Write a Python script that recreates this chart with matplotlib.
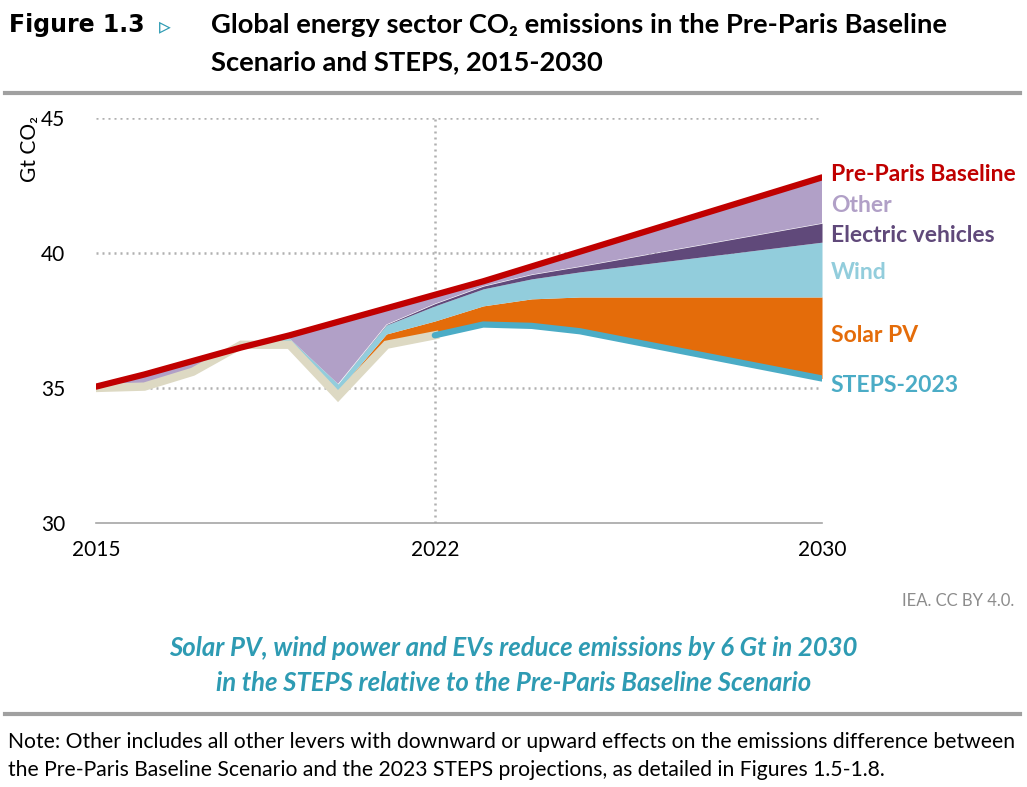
import matplotlib.pyplot as plt
import numpy as np

years = np.arange(2015, 2031)
baseline = [35.05, 35.5, 36.0, 36.5, 36.95, 37.45, 37.95, 38.45,
            38.95, 39.5, 40.05, 40.6, 41.15, 41.7, 42.25, 42.8]
steps = [35.0, 35.05, 35.6, 36.6, 36.6, 34.7, 36.6, 36.95,
         37.35, 37.3, 37.1, 36.75, 36.4, 36.05, 35.7, 35.35]
solar_pv = [0.0, 0.02, 0.05, 0.08, 0.15, 0.2, 0.4, 0.53,
            0.69, 1.0, 1.27, 1.62, 1.97, 2.32, 2.67, 3.02]
wind = [0.0, 0.01, 0.03, 0.05, 0.08, 0.25, 0.33, 0.56,
        0.63, 0.74, 0.93, 1.15, 1.37, 1.59, 1.81, 2.03]
evs = [0.0, 0.0, 0.0, 0.0, 0.0, 0.0, 0.02, 0.08,
       0.1, 0.16, 0.2, 0.3, 0.4, 0.5, 0.6, 0.7]

C_RED = "#c00000"
C_OTHER = "#b1a0c7"
C_EV = "#60497a"
C_WIND = "#92cddc"
C_SOLAR = "#e46c0a"
C_STEPS = "#4bacc6"
C_HIST = "#ddd9c3"
C_TEAL = "#2e9bb3"

FONT = ["Lato", "DejaVu Sans"]
plt.rcParams["font.family"] = FONT

steps = np.array(steps)
baseline = np.array(baseline)
top_solar = steps + np.array(solar_pv)
top_wind = top_solar + np.array(wind)
top_ev = top_wind + np.array(evs)

fig = plt.figure(figsize=(10.27, 7.87), dpi=100)
ax = fig.add_axes([0.0935, 0.3355, 0.7069, 0.5146])

ax.fill_between(years, steps, top_solar, color=C_SOLAR, lw=0)
ax.fill_between(years, top_solar, top_wind, color=C_WIND, lw=0)
ax.fill_between(years, top_wind, top_ev, color=C_EV, lw=0)
ax.fill_between(years, top_ev, baseline, where=baseline >= top_ev,
                interpolate=True, color=C_OTHER, lw=0)

ax.plot(years, baseline, color=C_RED, lw=4.5, solid_capstyle="round", zorder=5)
hist = years <= 2022
ax.plot(years[hist], steps[hist], color=C_HIST, lw=6, zorder=4,
        solid_joinstyle="miter")
ax.plot(years[years >= 2022], steps[years >= 2022],
        color=C_STEPS, lw=4.5, solid_capstyle="round", zorder=4)

ax.set_xlim(2015, 2030)
ax.set_ylim(30, 45)
ax.set_yticks([30, 35, 40, 45])
ax.set_xticks([2015, 2022, 2030])
for y in [35, 40, 45]:
    ax.axhline(y, color="#b0b0b0", lw=1.8, ls=(0, (0.8, 1.6)), zorder=0)
ax.axvline(2022, color="#b0b0b0", lw=1.8, ls=(0, (0.8, 1.6)), zorder=0)
for s in ["top", "right", "left"]:
    ax.spines[s].set_visible(False)
ax.spines["bottom"].set_color("#a6a6a6")
ax.spines["bottom"].set_linewidth(1.2)
ax.tick_params(length=0, labelsize=15, pad=12, colors="black")
ax.tick_params(axis="y", pad=22)
ax.set_facecolor("none")

fig.text(0.029, 0.853, "Gt CO\u2082", rotation=90, fontsize=15, ha="center",
         va="top")

labels = [("Pre-Paris Baseline", 42.9, C_RED),
          ("Other", 41.77, C_OTHER),
          ("Electric vehicles", 40.66, C_EV),
          ("Wind", 39.28, C_WIND),
          ("Solar PV", 36.95, C_SOLAR),
          ("STEPS-2023", 35.1, C_STEPS)]
for txt, yv, col in labels:
    ax.text(2030.18, yv, txt, color=col, fontsize=16.5, fontweight="bold",
            ha="left", va="center", clip_on=False)

fig.text(0.009, 0.968, "Figure 1.3", fontsize=17, fontweight="bold",
         va="center", ha="left", family="DejaVu Sans")
fig.text(0.155, 0.967, "\u25b9", fontsize=17, color=C_TEAL, va="center",
         ha="left", family="DejaVu Sans")
fig.text(0.205, 0.968, "Global energy sector CO\u2082 emissions in the Pre-Paris Baseline",
         fontsize=19.7, fontweight="bold", va="center", ha="left")
fig.text(0.205, 0.921, "Scenario and STEPS, 2015-2030",
         fontsize=19.7, fontweight="bold", va="center", ha="left")

fig.add_artist(plt.Line2D([0.005, 0.993], [0.882, 0.882], color="#a0a0a0",
                          lw=3, transform=fig.transFigure))
fig.add_artist(plt.Line2D([0.005, 0.993], [0.093, 0.093], color="#a0a0a0",
                          lw=3, transform=fig.transFigure))

fig.text(0.988, 0.236, "IEA. CC BY 4.0.", fontsize=12, color="#8c8c8c",
         ha="right", va="center")
fig.text(0.5, 0.176, "Solar PV, wind power and EVs reduce emissions by 6 Gt in 2030",
         fontsize=18.5, color=C_TEAL, style="italic", fontweight="bold",
         ha="center", va="center")
fig.text(0.5, 0.132, "in the STEPS relative to the Pre-Paris Baseline Scenario",
         fontsize=18.5, color=C_TEAL, style="italic", fontweight="bold",
         ha="center", va="center")

fig.text(0.008, 0.057, "Note: Other includes all other levers with downward or upward "
         "effects on the emissions difference between", fontsize=15.2,
         ha="left", va="center")
fig.text(0.008, 0.021, "the Pre-Paris Baseline Scenario and the 2023 STEPS projections, "
         "as detailed in Figures 1.5-1.8.", fontsize=15.2, ha="left", va="center")

fig.savefig("out.png", dpi=100)
